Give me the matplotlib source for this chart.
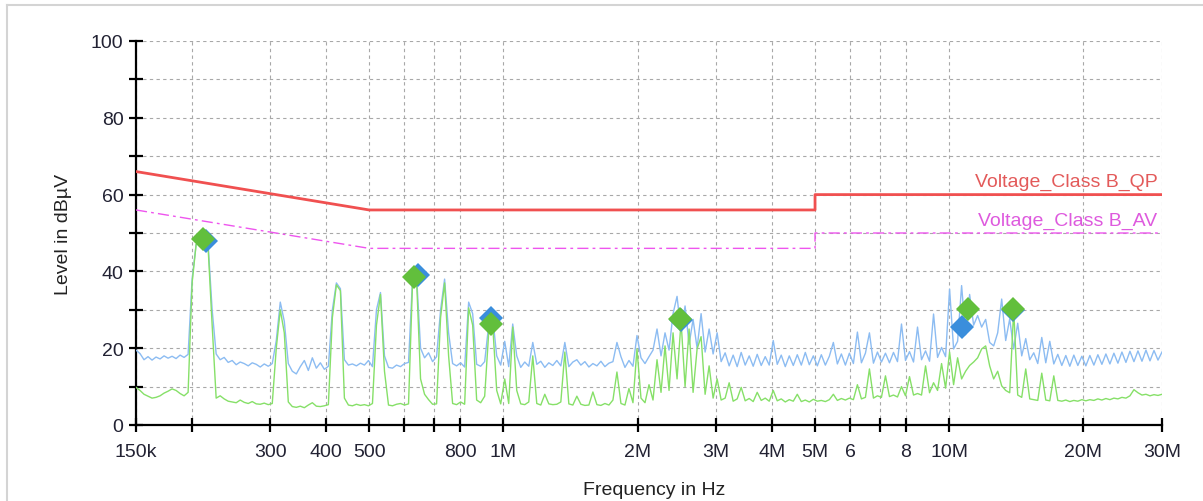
import numpy as np
import matplotlib
matplotlib.use("Agg")
import matplotlib.pyplot as plt
from matplotlib.lines import Line2D

plt.rcParams['font.family'] = ['Liberation Sans', 'DejaVu Sans']

# ---- scan data (levels in dBuV, frequency axis 150 kHz .. 30 MHz, log sweep) ----
peak_level = [
    19.5, 18.6, 17.0, 17.8, 16.9, 17.7, 17.2, 18.0, 17.4, 17.9, 17.3, 18.2, 17.6, 18.4, 38.0, 47.0,   # 0
    48.2, 47.8, 47.0, 30.0, 18.5, 17.0, 17.6, 16.3, 16.8, 15.7, 16.4, 16.0, 15.4, 16.2, 15.8, 15.1,   # 16
    15.9, 15.3, 16.0, 22.0, 32.0, 27.0, 16.0, 14.0, 13.3, 15.2, 16.8, 14.2, 17.5, 14.8, 16.2, 14.5,   # 32
    15.3, 30.0, 37.0, 35.5, 17.0, 15.6, 15.9, 15.4, 16.1, 15.6, 16.8, 15.2, 30.0, 34.5, 18.0, 15.0,   # 48
    14.8, 15.6, 15.2, 16.0, 16.3, 38.0, 39.0, 20.0, 17.5, 18.8, 16.5, 17.8, 30.0, 38.0, 24.0, 16.0,   # 64
    15.4, 16.2, 15.1, 32.0, 29.0, 15.8, 15.3, 16.5, 26.0, 28.0, 18.0, 15.6, 21.8, 15.2, 26.3, 18.0,   # 80
    15.0, 16.4, 15.3, 21.5, 15.8, 16.6, 15.0, 16.2, 15.5, 16.8, 15.4, 21.5, 15.2, 16.4, 17.0, 15.6,   # 96
    16.5, 15.1, 16.0, 15.4, 16.6, 15.2, 16.1, 16.5, 21.5, 17.8, 15.0, 16.8, 15.3, 23.3, 17.5, 16.0,   # 112
    17.8, 19.5, 25.0, 18.0, 24.0, 19.5, 29.0, 33.5, 24.0, 31.0, 21.0, 27.5, 20.0, 29.0, 19.0, 25.0,   # 128
    18.5, 24.0, 16.5, 18.8, 15.4, 18.2, 15.2, 18.9, 15.6, 18.0, 15.3, 18.4, 15.5, 17.8, 15.6, 22.0,   # 144
    15.8, 18.2, 15.2, 18.0, 15.5, 18.3, 15.6, 18.9, 15.7, 18.0, 15.4, 18.3, 15.6, 17.9, 21.5, 15.9,   # 160
    18.5, 15.6, 18.7, 16.0, 24.2, 16.2, 18.7, 24.0, 16.1, 19.0, 16.4, 18.7, 16.2, 18.9, 16.5, 26.3,   # 176
    16.8, 19.1, 16.4, 25.5, 17.0, 19.3, 16.6, 28.9, 17.6, 20.2, 17.8, 35.4, 19.8, 21.8, 36.3, 23.5,   # 192
    34.0, 26.0, 28.5, 25.5, 27.5, 21.5, 20.6, 24.0, 32.8, 22.0, 27.6, 19.8, 26.5, 18.0, 22.5, 17.0,   # 208
    18.8, 16.0, 22.8, 16.2, 21.8, 15.9, 18.4, 15.5, 18.1, 15.3, 18.2, 15.5, 17.9, 15.4, 18.1, 15.6,   # 224
    18.3, 15.8, 18.5, 15.9, 18.7, 16.1, 19.0, 16.3, 19.2, 16.5, 19.3, 16.6, 19.5, 16.7, 19.4, 16.9,   # 240
    19.0,                                                                                              # 256
]
avg_level = [
    9.8, 9.0, 8.0, 7.5, 7.0, 7.2, 7.6, 8.3, 8.8, 9.4, 9.0, 8.2, 7.6, 8.5, 37.0, 47.0,                 # 0
    48.0, 47.5, 46.0, 26.0, 7.0, 7.6, 6.8, 6.2, 6.0, 5.8, 6.5, 5.9, 5.6, 6.1, 5.5, 5.4,               # 16
    5.7, 5.3, 5.6, 20.0, 30.0, 24.0, 6.0, 4.8, 4.6, 4.9, 4.5, 5.2, 5.8, 4.9, 4.8, 5.0,                # 32
    5.3, 28.0, 36.5, 35.0, 7.0, 5.2, 5.0, 5.4, 5.1, 5.3, 5.0, 5.6, 26.0, 34.0, 14.0, 5.2,             # 48
    5.0, 5.4, 5.6, 5.2, 5.5, 37.0, 38.0, 12.0, 8.0, 6.6, 5.4, 5.5, 28.0, 37.0, 18.0, 5.6,             # 64
    5.3, 6.0, 5.4, 30.5, 26.0, 6.5, 5.8, 7.5, 24.0, 26.0, 9.0, 5.5, 12.0, 5.6, 25.5, 9.0,             # 80
    5.5, 5.3, 6.0, 18.0, 5.6, 5.2, 8.0, 5.5, 5.3, 5.4, 6.0, 19.0, 5.5, 5.2, 7.5, 5.4,                 # 96
    5.1, 5.2, 8.6, 5.3, 5.1, 5.6, 5.2, 6.5, 13.8, 5.6, 5.2, 9.5, 5.8, 19.8, 7.0, 5.8,                 # 112
    10.5, 6.5, 17.0, 8.5, 20.6, 9.0, 24.0, 12.0, 27.0, 10.0, 25.0, 8.5, 19.8, 23.0, 8.0, 15.4,        # 128
    7.0, 12.0, 6.5, 7.0, 11.0, 6.2, 6.8, 9.8, 6.3, 6.9, 6.1, 8.5, 6.4, 7.0, 6.2, 9.0,                 # 144
    6.3, 6.8, 6.0, 6.6, 6.2, 8.0, 6.1, 6.5, 6.0, 6.7, 6.2, 6.4, 6.1, 6.6, 8.0, 6.4,                   # 160
    6.9, 6.5, 7.0, 6.6, 10.5, 6.8, 7.2, 14.6, 7.0, 7.6, 7.2, 12.8, 7.4, 7.8, 7.3, 10.0,               # 176
    7.6, 12.6, 7.8, 8.2, 7.8, 15.4, 8.4, 11.0, 9.0, 16.0, 9.6, 19.0, 10.5, 17.5, 12.0, 14.0,          # 192
    15.5, 16.4, 17.5, 19.8, 20.6, 15.4, 12.0, 14.0, 10.2, 9.0, 8.4, 30.0, 7.8, 7.2, 14.6, 6.8,        # 208
    6.6, 6.4, 13.5, 6.5, 6.3, 12.8, 6.4, 6.2, 6.5, 6.1, 6.4, 6.2, 6.6, 6.3, 6.6, 6.4,                 # 224
    6.8, 6.5, 6.9, 6.6, 7.0, 6.8, 7.2, 7.0, 7.6, 9.2, 8.4, 7.8, 8.0, 7.6, 7.9, 7.7,                   # 240
    8.0,                                                                                              # 256
]
freq = np.geomspace(0.15, 30, len(peak_level))   # MHz, receiver sweep

# limit lines (EN 55032 class B, conducted)
lim_f = [0.15, 0.5, 5, 5, 30]
qp_lim = [66, 56, 56, 60, 60]
av_lim = [56, 46, 46, 50, 50]

# final measurement points
qp_f = [0.215, 0.643, 0.937, 2.50, 10.7, 13.9]
qp_val = [47.9, 39.1, 27.9, 27.3, 25.5, 30.0]
av_f = [0.212, 0.630, 0.937, 2.49, 11.0, 13.9]
av_val = [48.4, 38.5, 26.3, 27.6, 30.2, 30.2]

xticks = [0.15, 0.2, 0.3, 0.4, 0.5, 0.6, 0.7, 0.8, 1, 2, 3, 4, 5, 6, 7, 8, 10, 20, 30]
xlabels = ['150k', '', '300', '400', '500', '', '', '800', '1M', '2M', '3M', '4M', '5M', '6', '', '8',
           '10M', '20M', '30M']
yticks = [0, 10, 20, 30, 40, 50, 60, 70, 80, 90, 100]
ylabels = ['0', '', '20', '', '40', '', '60', '', '80', '', '100']

fig = plt.figure(figsize=(12.03, 5.02), dpi=100)
ax = fig.add_axes([136/1203, 76/502, 1026/1203, 384/502])

ax.plot(freq, peak_level, color='#8cbcf2', lw=1.0, zorder=3)
ax.plot(freq, avg_level, color='#86e068', lw=1.0, zorder=4)
ax.plot(lim_f, qp_lim, color='#f05050', lw=2.0, zorder=5)
ax.plot(lim_f, av_lim, color='#ee55ee', lw=1.0, ls=(0, (8, 3, 2, 3)), zorder=5)
ax.plot(qp_f, qp_val, 'D', color='#3a8edc', ms=12, mew=0, zorder=6)
ax.plot(av_f, av_val, 'D', color='#62bf3c', ms=12, mew=0, zorder=7)

ax.text(29.3, 61.2, 'Voltage_Class B_QP', color='#e35a5a', fontsize=14, ha='right', va='bottom', zorder=8)
ax.text(29.3, 51.1, 'Voltage_Class B_AV', color='#de5ade', fontsize=14, ha='right', va='bottom', zorder=8)

ax.set_xscale('log')
ax.set_xlim(0.15, 30)
ax.set_ylim(0, 100)
ax.set_xticks(xticks)
ax.set_xticklabels(xlabels)
ax.xaxis.set_minor_locator(matplotlib.ticker.NullLocator())
ax.set_yticks(yticks)
ax.set_yticklabels(ylabels)

ax.grid(True, color='#a8a8a8', ls=(0, (3, 3)), lw=0.8, zorder=0)
for s in ['top', 'right']:
    ax.spines[s].set_visible(False)
for s in ['left', 'bottom']:
    ax.spines[s].set_linewidth(1.6)
ax.tick_params(axis='x', direction='inout', length=10, width=1.6, pad=8, labelsize=14, labelcolor='#222233')
ax.tick_params(axis='y', direction='inout', length=10, width=1.6, pad=4, labelsize=14, labelcolor='#222233')

ax.set_xlabel('Frequency in Hz', fontsize=14, color='#222222', va='center')
ax.xaxis.set_label_coords(0.505, -0.169)
ax.set_ylabel('Level in dBµV', fontsize=14, color='#222222', va='center')
ax.yaxis.set_label_coords(-0.071, 0.5)

# outer frame of the report window
fig.add_artist(Line2D([7/1203, 1], [1 - 6/502, 1 - 6/502], color='#d4d4d4', lw=1.5))
fig.add_artist(Line2D([7/1203, 7/1203], [0, 1 - 6/502], color='#d4d4d4', lw=1.5))

fig.savefig('out.png', dpi=100)
